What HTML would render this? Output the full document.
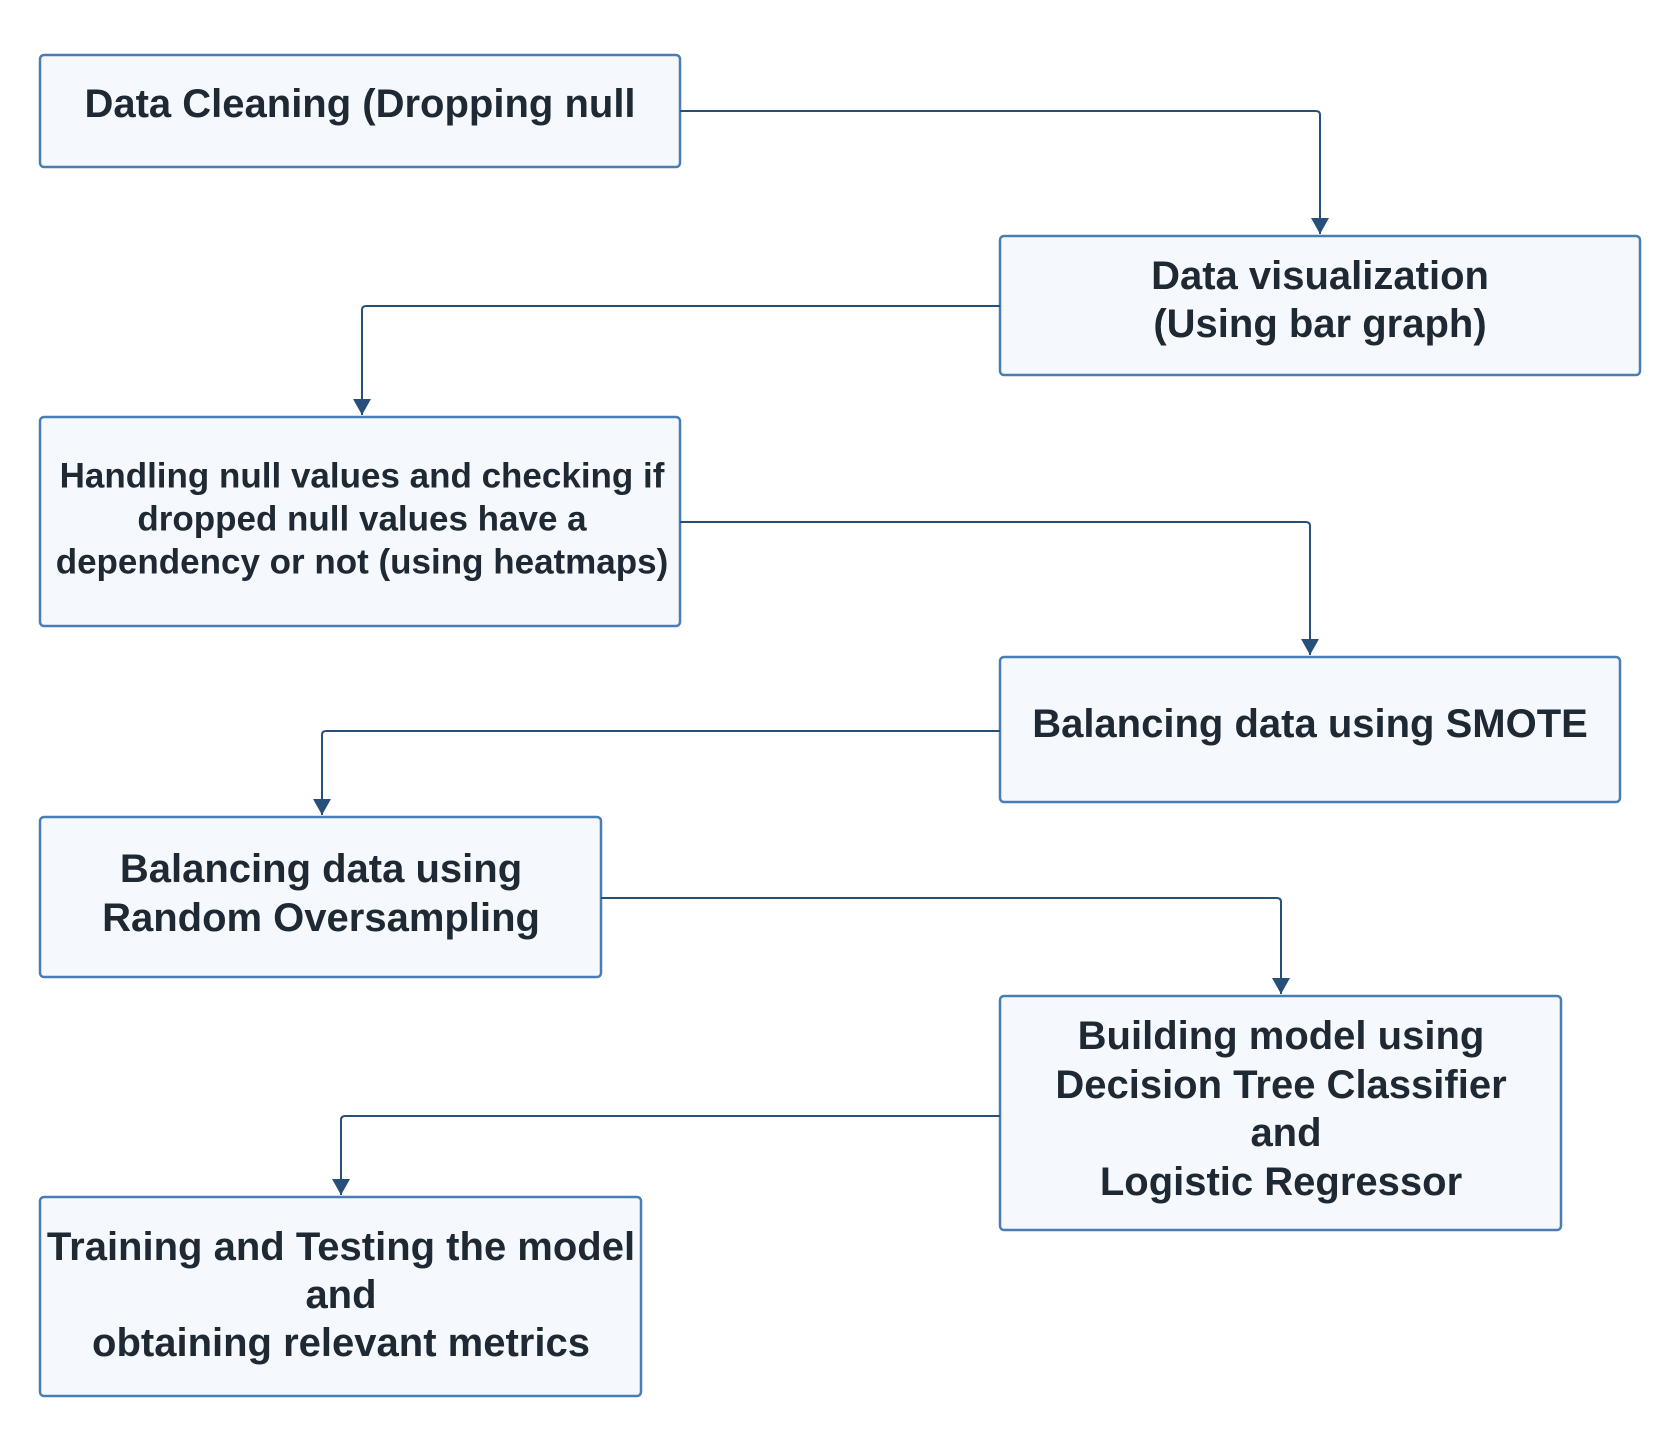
<!DOCTYPE html>
<html><head><meta charset="utf-8"><style>
html,body{margin:0;padding:0;background:#fff;}
svg{display:block;}
text{font-family:"Liberation Sans",Arial,sans-serif;font-weight:bold;fill:#1f2933;text-anchor:middle;dominant-baseline:central;}
</style></head><body>
<svg width="1680" height="1435" viewBox="0 0 1680 1435">
<defs>
<marker id="b" markerWidth="18" markerHeight="16" refX="9" refY="16" orient="0" markerUnits="userSpaceOnUse" viewBox="0 0 18 16"><path d="M0,0 L18,0 L9,16 Z" fill="#284f7a"/></marker></defs>
<g fill="#f5f9fd" stroke="#4a7db3" stroke-width="2.5">
<rect x="40" y="55" width="640" height="112" rx="4"/>
<rect x="1000" y="236" width="640" height="139" rx="4"/>
<rect x="40" y="417" width="640" height="209" rx="4"/>
<rect x="1000" y="657" width="620" height="145" rx="4"/>
<rect x="40" y="817" width="561" height="160" rx="4"/>
<rect x="1000" y="996" width="561" height="234" rx="4"/>
<rect x="40" y="1197" width="601" height="199" rx="4"/>
</g>
<g fill="none" stroke="#284f7a" stroke-width="2">
<path d="M680 111 H1316 Q1320 111 1320 115 V234" marker-end="url(#b)"/>
<path d="M1000 306 H366 Q362 306 362 310 V415" marker-end="url(#b)"/>
<path d="M680 522 H1306 Q1310 522 1310 526 V655" marker-end="url(#b)"/>
<path d="M1000 731 H326 Q322 731 322 735 V815" marker-end="url(#b)"/>
<path d="M601 898 H1277 Q1281 898 1281 902 V994" marker-end="url(#b)"/>
<path d="M1000 1116 H345 Q341 1116 341 1120 V1195" marker-end="url(#b)"/>
</g>
<g font-size="40">
<text x="360" y="104">Data Cleaning (Dropping null</text>
<text x="1320" y="276">Data visualization</text>
<text x="1320" y="324">(Using bar graph)</text>
<text x="1310" y="724">Balancing data using SMOTE</text>
<text x="321" y="869">Balancing data using</text>
<text x="321" y="918">Random Oversampling</text>
<text x="1281" y="1036">Building model using</text>
<text x="1281" y="1085">Decision Tree Classifier</text>
<text x="1286" y="1133">and</text>
<text x="1281" y="1182">Logistic Regressor</text>
<text x="341" y="1247">Training and Testing the model</text>
<text x="341" y="1295">and</text>
<text x="341" y="1343">obtaining relevant metrics</text>
</g>
<g font-size="35">
<text x="362" y="476">Handling null values and checking if</text>
<text x="362" y="519">dropped null values have a</text>
<text x="362" y="562">dependency or not (using heatmaps)</text>
</g>
</svg>
</body></html>
